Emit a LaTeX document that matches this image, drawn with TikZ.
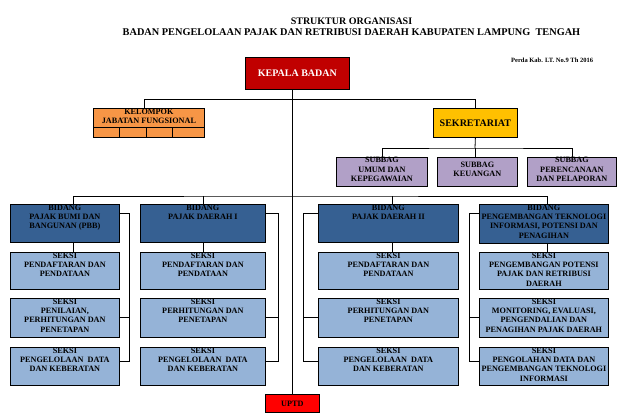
\documentclass[tikz,border=0pt]{standalone}
\usepackage{fontspec}
\setmainfont{Liberation Serif}
\definecolor{kbred}{HTML}{C00000}
\definecolor{orangeK}{HTML}{F79646}
\definecolor{goldS}{HTML}{FFC000}
\definecolor{lavS}{HTML}{B1A0C7}
\definecolor{bidB}{HTML}{366092}
\definecolor{sekB}{HTML}{95B3D7}
\definecolor{uptdR}{HTML}{FF0000}
\newcommand\obox[8]{%
  \node[#6, anchor=north west, inner sep=0pt] (#1) at (#2,#3)
  {\parbox[t][\dimexpr#5pt-#3pt\relax][t]{\dimexpr#4pt-#2pt\relax}{\centering\vspace*{#7pt}#8\par}};}
\tikzset{
  bx/.style={draw=black, line width=0.8pt, font=\bfseries\fontsize{8.2}{9.4}\selectfont},
  bigbx/.style={draw=black, line width=0.8pt, inner sep=0pt, anchor=north west, font=\bfseries\fontsize{10}{12}\selectfont},
  conn/.style={draw=black, line width=0.8pt},
  ttl/.style={font=\bfseries\fontsize{10}{12}\selectfont, anchor=base, inner sep=0pt}
}
\begin{document}
\begin{tikzpicture}[x=1pt,y=-1pt]
\useasboundingbox[fill=white] (0,0) rectangle (633,417);
% titles
\node[ttl] (t1) at (351.5,25) {STRUKTUR ORGANISASI};
\node[ttl, font=\bfseries\fontsize{10.3}{12}\selectfont] (t2) at (351.5,36) {BADAN PENGELOLAAN PAJAK DAN RETRIBUSI DAERAH KABUPATEN LAMPUNG\ \ TENGAH};
\node[font=\bfseries\fontsize{6.5}{8}\selectfont, anchor=base west, inner sep=0pt] (perda) at (511,63) {Perda Kab. LT. No.9 Th 2016};
% top boxes
\node[bigbx, fill=kbred, text=white, minimum width=104pt, minimum height=32pt] (kb) at (245,57) {KEPALA BADAN};
\obox{kel}{93}{108}{204}{137}{bx, fill=orangeK}{0.3}{KELOMPOK\\JABATAN FUNGSIONAL}
\node[bigbx, fill=goldS, minimum width=84pt, minimum height=29pt] (sek) at (433,108) {SEKRETARIAT};
\obox{sb1}{336}{157}{427}{186}{bx, fill=lavS}{0}{SUBBAG\\UMUM DAN\\KEPEGAWAIAN}
\obox{sb2}{437}{157}{517}{186}{bx, fill=lavS}{4.5}{SUBBAG\\KEUANGAN}
\obox{sb3}{527}{157}{616}{186}{bx, fill=lavS}{0}{SUBBAG\\PERENCANAAN\\DAN PELAPORAN}
% bidang
\obox{b1}{10}{204}{119}{242}{bx, fill=bidB}{0.3}{BIDANG\\PAJAK BUMI DAN\\BANGUNAN (PBB)}
\obox{b2}{140}{204}{265}{242}{bx, fill=bidB}{0.3}{BIDANG\\PAJAK DAERAH I}
\obox{b3}{318}{204}{458}{242}{bx, fill=bidB}{0.3}{BIDANG\\PAJAK DAERAH II}
\obox{b4}{479}{204}{608}{243}{bx, fill=bidB}{0.3}{BIDANG\\PENGEMBANGAN TEKNOLOGI\\INFORMASI, POTENSI DAN\\PENAGIHAN}
% seksi col 1
\obox{s11}{10}{252}{119}{289}{bx, fill=sekB}{0.3}{SEKSI\\PENDAFTARAN DAN\\PENDATAAN}
\obox{s12}{10}{298}{119}{337}{bx, fill=sekB}{0.3}{SEKSI\\PENILAIAN,\\PERHITUNGAN DAN\\PENETAPAN}
\obox{s13}{10}{347}{119}{385}{bx, fill=sekB}{0.3}{SEKSI\\PENGELOLAAN\ \ DATA\\DAN KEBERATAN}
% seksi col 2
\obox{s21}{140}{252}{265}{289}{bx, fill=sekB}{0.3}{SEKSI\\PENDAFTARAN DAN\\PENDATAAN}
\obox{s22}{140}{298}{265}{337}{bx, fill=sekB}{0.3}{SEKSI\\PERHITUNGAN DAN\\PENETAPAN}
\obox{s23}{140}{347}{265}{385}{bx, fill=sekB}{0.3}{SEKSI\\PENGELOLAAN\ \ DATA\\DAN KEBERATAN}
% seksi col 3
\obox{s31}{318}{252}{458}{289}{bx, fill=sekB}{0.3}{SEKSI\\PENDAFTARAN DAN\\PENDATAAN}
\obox{s32}{318}{298}{458}{337}{bx, fill=sekB}{0.3}{SEKSI\\PERHITUNGAN DAN\\PENETAPAN}
\obox{s33}{318}{347}{458}{385}{bx, fill=sekB}{0.3}{SEKSI\\PENGELOLAAN\ \ DATA\\DAN KEBERATAN}
% seksi col 4
\obox{s41}{479}{252}{608}{289}{bx, fill=sekB}{0.3}{SEKSI\\PENGEMBANGAN POTENSI\\PAJAK DAN RETRIBUSI\\DAERAH}
\obox{s42}{479}{298}{608}{337}{bx, fill=sekB}{0.3}{SEKSI\\MONITORING, EVALUASI,\\PENGENDALIAN DAN\\PENAGIHAN PAJAK DAERAH}
\obox{s43}{479}{347}{608}{385}{bx, fill=sekB}{0.3}{SEKSI\\PENGOLAHAN DATA DAN\\PENGEMBANGAN TEKNOLOGI\\INFORMASI}
% UPTD
\node[bx, fill=uptdR, inner sep=0pt, anchor=north west, minimum width=54pt, minimum height=18pt] (uptd) at (265,394) {UPTD};
% kelompok cells
\draw[conn] ([yshift=10pt]kel.south west) -- ([yshift=10pt]kel.south east);
\foreach \d in {26,53,79} \draw[conn] ([xshift=\d pt]kel.south west) -- ++(0,-10);
% connectors
\coordinate (j1) at (292,99.5);
\coordinate (j2) at (475,148);
\coordinate (j3) at (292,196);
\draw[conn] ([xshift=-5pt]kb.south) -- (uptd.north);
\draw[conn] ([xshift=-4.5pt]kel.north) |- (j1) -| (sek.north);
\draw[conn] (sek.south) -- (j2);
\draw[conn] (sb1.north) |- (j2) -| (sb3.north);
\draw[conn] (j2) -- (j2 |- sb2.north);
\draw[conn] ([xshift=8.5pt]b1.north) |- (j3) -| ([xshift=3.5pt]b4.north);
\draw[conn] (b2.north) -- ++(0,-8);
\draw[conn] ([xshift=4pt]b3.north) -- ++(0,-8);
% bidang to first seksi
\draw[conn] ([xshift=8.5pt]b1.south) -- ([xshift=8.5pt]s11.north);
\draw[conn] (b2.south) -- (s21.north);
\draw[conn] ([xshift=4pt]b3.south) -- ([xshift=4pt]s31.north);
\draw[conn] ([xshift=3.5pt]b4.south) -- ([xshift=3.5pt]s41.north);
% brackets
\draw[conn] ([yshift=-9pt]b1.north east) -- ++(10,0) |- ([yshift=5pt]s13.east);
\draw[conn] (s12.east) -- ++(10,0);
\draw[conn] ([yshift=-9pt]b2.north east) -- ++(13,0) |- ([yshift=5pt]s23.east);
\draw[conn] (s22.east) -- ++(13,0);
\draw[conn] ([yshift=-9pt]b3.north west) -- ++(-15,0) |- ([yshift=5pt]s33.west);
\draw[conn] (s32.west) -- ++(-15,0);
\draw[conn] ([yshift=-9pt]b4.north west) -- ++(-10,0) |- ([yshift=5pt]s43.west);
\draw[conn] (s42.west) -- ++(-10,0);
\end{tikzpicture}
\end{document}
